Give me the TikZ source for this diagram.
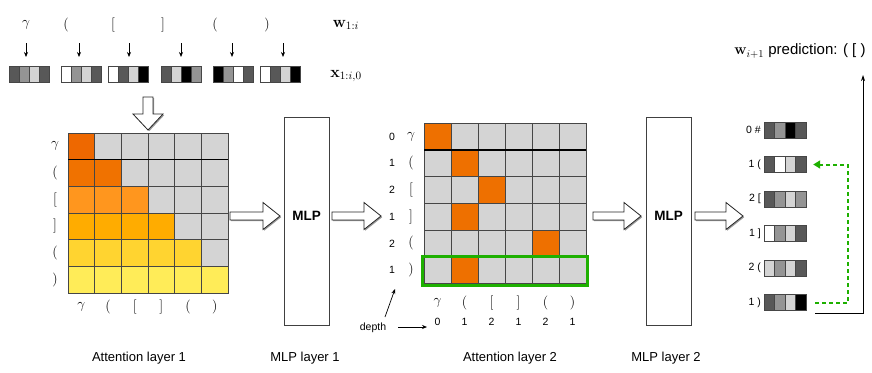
\RequirePackage{fix-cm}
\documentclass[tikz,border=0pt]{standalone}
\usepackage[no-math]{fontspec}
\setmainfont{Liberation Sans}
\usetikzlibrary{arrows.meta,calc}
\definecolor{gdk}{RGB}{88,88,88}
\definecolor{gmd}{RGB}{148,148,148}
\definecolor{glt}{RGB}{212,212,212}
\definecolor{cellg}{RGB}{212,212,212}
\definecolor{oA}{RGB}{238,104,0}
\definecolor{oB}{RGB}{240,114,0}
\definecolor{oC}{RGB}{255,150,30}
\definecolor{oD}{RGB}{255,172,0}
\definecolor{oE}{RGB}{255,212,48}
\definecolor{oF}{RGB}{255,236,88}
\definecolor{oX}{RGB}{238,112,0}
\definecolor{grn}{RGB}{30,176,0}
\definecolor{edge}{RGB}{70,70,70}
\tikzset{
  cellbox/.style={draw=edge, line width=0.7},
  vcell/.style={draw=edge, line width=0.6},
  blockarr/.style={draw=black!85, fill=white, line width=0.8, line join=miter},
  blockshadow/.style={fill=black!40},
  mlpbox/.style={draw=black!75, fill=white, line width=0.8, minimum width=45, minimum height=208, inner sep=0},
  mlptext/.style={font=\fontsize{13.5}{15}\selectfont\bfseries, inner sep=0},
  smallarr/.style={-{Stealth[length=5,width=4]}, line width=0.7},
  tok/.style={font=\fontsize{14}{16}\selectfont, inner sep=0},
  lab/.style={font=\fontsize{16}{18}\selectfont, inner sep=0},
  dig/.style={font=\fontsize{10.5}{12}\selectfont, inner sep=0},
  caption/.style={font=\fontsize{13}{15}\selectfont, inner sep=0},
  vecbox/.style={inner sep=0, minimum height=16},
  greendash/.style={draw=grn, line width=2, dash pattern=on 4 off 3, -{Triangle[length=7,width=8]}},
}
\newcommand{\blockR}[3]{%
  \fill[blockshadow,shift={(1.2,1.2)}] (#1,#3-4) -- (#2-17,#3-4) -- (#2-17,#3-13.5) -- (#2,#3) -- (#2-17,#3+13.5) -- (#2-17,#3+4) -- (#1,#3+4) -- cycle;
  \draw[blockarr] (#1,#3-4) -- (#2-17,#3-4) -- (#2-17,#3-13.5) -- (#2,#3) -- (#2-17,#3+13.5) -- (#2-17,#3+4) -- (#1,#3+4) -- cycle;}
\newcommand{\blockD}[3]{%
  \fill[blockshadow,shift={(1.2,1.2)}] (#1-5,#2) -- (#1+5,#2) -- (#1+5,#3-16) -- (#1+15,#3-16) -- (#1,#3) -- (#1-15,#3-16) -- (#1-5,#3-16) -- cycle;
  \draw[blockarr] (#1-5,#2) -- (#1+5,#2) -- (#1+5,#3-16) -- (#1+15,#3-16) -- (#1,#3) -- (#1-15,#3-16) -- (#1-5,#3-16) -- cycle;}
\newcommand{\tokvec}[7]{%
  \foreach \cc [count=\kk from 0] in {#4,#5,#6,#7}
    \filldraw[vcell, fill=\cc] (#1+\kk*#3,#2) rectangle ++(#3,16);}
\begin{document}
\begin{tikzpicture}[x=1pt,y=-1pt]
\useasboundingbox (0,0) rectangle (872,372);
\fill[white] (0,0) rectangle (872,372);

% ---------- top tokens ----------
\node[tok] (t1) at (26,25) {$\gamma$};
\node[tok] (t2) at (66,25) {$($};
\node[tok] (t3) at (113,25) {$[$};
\node[tok] (t4) at (163,25) {$]$};
\node[tok] (t5) at (215,25) {$($};
\node[tok] (t6) at (267,25) {$)$};
\node[lab] (wlab) at (346,25) {$\mathbf{w}_{1:i}$};
\node[lab] (xlab) at (346,76) {$\mathbf{x}_{1:i,0}$};
\foreach \xx in {26,79,129,181,232,283}
  \draw[smallarr] (\xx,43) -- (\xx,57);
\tokvec{9.5}{66}{10}{gdk}{gmd}{glt}{gdk}
\tokvec{61.5}{66}{10}{white}{gmd}{glt}{gdk}
\tokvec{108.5}{66}{10}{white}{gdk}{glt}{black}
\tokvec{161}{66}{10}{gdk}{glt}{black}{gmd}
\tokvec{213.5}{66}{10}{black}{gmd}{white}{gdk}
\tokvec{260.5}{66}{10}{white}{gdk}{glt}{black}
\blockD{148}{97}{130}

% ---------- attention layer 1 ----------
\foreach \r in {0,...,5}
  \foreach \c in {0,...,5}
    \filldraw[cellbox, fill=cellg] (68+\c*26.667,133+\r*26.667) rectangle ++(26.667,26.667);
\foreach \r/\col in {0/oA,1/oB,2/oC,3/oD,4/oE,5/oF}
  \foreach \c in {0,...,\r}
    \filldraw[cellbox, fill=\col] (68+\c*26.667,133+\r*26.667) rectangle ++(26.667,26.667);
\draw[line width=1.3] (68,159.67) -- (228,159.67);
\foreach \t [count=\i from 0] in {{\gamma},{(},{[},{]},{(},{)}} {
  \node[tok] at (55,146.33+\i*26.667) {$\t$};
  \node[tok] at (81.33+\i*26.667,307) {$\t$};
}

% ---------- MLP 1 ----------
\fill[black!35] (285.2,118.2) rectangle (330.2,326.2);
\node[mlpbox] (mlp1) at (306.5,221) {};
\node[mlptext] at ($(mlp1.center)+(0,-5)$) {MLP};
\blockR{230}{280}{216}
\blockR{332}{381}{216}

% ---------- attention layer 2 ----------
\foreach \r in {0,...,5}
  \foreach \c in {0,...,5}
    \filldraw[cellbox, fill=cellg] (424+\c*27,123.3+\r*26.7) rectangle ++(27,26.7);
\foreach \r/\c in {0/0,1/1,2/2,3/1,4/4,5/1}
  \filldraw[cellbox, fill=oX] (424+\c*27,123.3+\r*26.7) rectangle ++(27,26.7);
\draw[line width=1.3] (424,150) -- (586,150);
\draw[grn, line width=3] (422.7,256.7) rectangle (587.3,285.7);
\foreach \d/\t [count=\i from 0] in {0/{\gamma},1/{(},2/{[},1/{]},2/{(},1/{)}} {
  \node[dig] at (392,136.65+\i*26.7) {\d};
  \node[tok] at (411,136.65+\i*26.7) {$\t$};
  \node[tok] at (437.5+\i*27,303) {$\t$};
  \node[dig] at (437.5+\i*27,322) {\d};
}
\node[dig] (depth) at (373,328) {depth};
\coordinate (dA) at (398,327);
\coordinate (dB) at (427,327);
\draw[smallarr] (dA) -- (dB);
\coordinate (dC) at (385,317);
\coordinate (dD) at (395,289);
\draw[smallarr] (dC) -- (dD);

% ---------- MLP 2 ----------
\fill[black!35] (647.2,118.2) rectangle (692.2,326.2);
\node[mlpbox] (mlp2) at (668.5,221) {};
\node[mlptext] at ($(mlp2.center)+(0,-5)$) {MLP};
\blockR{593}{641}{216}
\blockR{695}{743}{216}

% ---------- output column ----------
\foreach \lab/\cA/\cB/\cC/\cD [count=\i from 0] in
  {{0 \#}/gdk/gmd/black/gdk, {1 (}/gdk/white/glt/gdk, {2 [}/gdk/gmd/glt/gmd,
   {1 ]}/white/gmd/glt/gdk, {2 (}/glt/gmd/glt/gdk, {1 )}/gdk/gmd/glt/black} {
  \node[vecbox, minimum width=42] (r\i) at (785,130+\i*34.5) {};
  \tokvec{764}{122+\i*34.5}{10.5}{\cA}{\cB}{\cC}{\cD}
  \node[dig, anchor=east] at (761,130+\i*34.5) {\lab};
}
\coordinate (gs) at ($(r5.east)+(9,0)$);
\coordinate (gc) at ($(r1.east)+(42,0)$);
\coordinate (ge) at ($(r1.east)+(7,0)$);
\draw[greendash] (gs) -| (gc) -- (ge);

\node[font=\fontsize{15}{17}\selectfont, inner sep=0] (pred) at (800,51) {$\mathbf{w}_{i+1}$ prediction: ( [ )};
\coordinate (ks) at ($(r5.south east)+(9,2.5)$);
\coordinate (kt) at (863,75);
\draw[-{Stealth[length=6,width=4]}, line width=0.8] (ks) -| (kt);

% ---------- captions ----------
\node[caption] at (139,358) {Attention layer 1};
\node[caption] at (305,358) {MLP layer 1};
\node[caption] at (510,358) {Attention layer 2};
\node[caption] at (666,358) {MLP layer 2};
\end{tikzpicture}
\end{document}
